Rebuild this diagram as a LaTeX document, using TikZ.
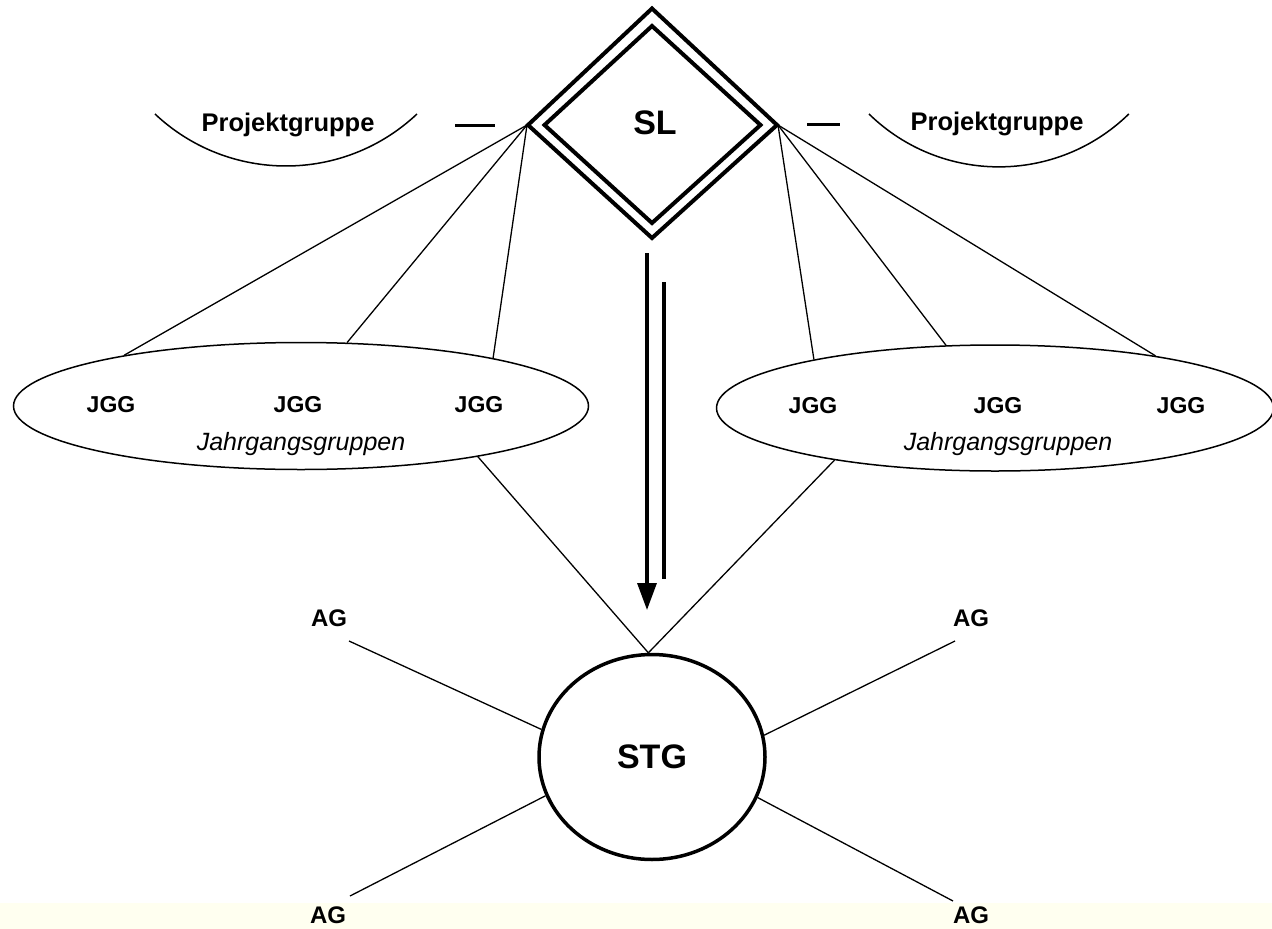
\documentclass[tikz,border=0pt]{standalone}
\usepackage{fontspec}
\setmainfont{Liberation Sans}
\usetikzlibrary{shapes.geometric,arrows.meta}
\definecolor{tint}{RGB}{255,255,240}
\begin{document}
\begin{tikzpicture}[x=1pt,y=-1pt,
  fan/.style={line width=1.3pt},
  ell/.style={ellipse, draw, line width=1.5pt, inner sep=0pt},
  jgg/.style={font=\bfseries\fontsize{23}{27}\selectfont, inner sep=0pt, anchor=base},
  jahr/.style={font=\itshape\fontsize{25}{30}\selectfont, inner sep=0pt, anchor=base},
  proj/.style={font=\bfseries\fontsize{25.5}{30}\selectfont, inner sep=0pt, anchor=base},
  ag/.style={font=\bfseries\fontsize{24}{28}\selectfont, inner sep=0pt, anchor=base},
  big/.style={font=\bfseries\fontsize{34}{40}\selectfont, inner sep=0pt},
  thickbar/.style={line width=3pt},
  arcline/.style={line width=1.5pt},
  arrowline/.style={line width=3.3pt}
]
\useasboundingbox (0,0) rectangle (1272,929);
\fill[white] (0,0) rectangle (1272,929);
\fill[tint] (0,903) rectangle (1272,929);

% SL double diamond
\draw[line width=4pt, line join=miter] (652,8.5) -- (777,125) -- (652,238) -- (528,125) -- cycle;
\draw[line width=4pt, line join=miter] (652,26) -- (760.5,125) -- (652,223) -- (544.5,125) -- cycle;
\node[big, anchor=base] (SL) at (655,134) {SL};
\coordinate (SLw) at (527,125);
\coordinate (SLe) at (778,125);

% Projektgruppe
\draw[arcline] (155,114) arc[start angle=226.7, end angle=313.3, radius=191pt];
\draw[arcline] (869,114) arc[start angle=225.7, end angle=314.3, radius=186pt];
\node[proj] (PL) at (288,131.5) {Projektgruppe};
\node[proj] (PR) at (997,130) {Projektgruppe};
\coordinate (DLa) at (455,125); \coordinate (DLb) at (495,125);
\coordinate (DRa) at (807,124); \coordinate (DRb) at (840,124);
\draw[thickbar] (DLa) -- (DLb);
\draw[thickbar] (DRa) -- (DRb);

% Jahrgangsgruppen ellipses
\node[ell, minimum width=575pt, minimum height=127pt] (JL) at (301,406) {};
\node[ell, minimum width=557pt, minimum height=126pt] (JR) at (995,408) {};
\node[jgg] (JL1) at (111,412) {JGG};
\node[jgg] (JL2) at (298,412) {JGG};
\node[jgg] (JL3) at (479,412) {JGG};
\node[jgg] (JR1) at (813,413) {JGG};
\node[jgg] (JR2) at (998,413) {JGG};
\node[jgg] (JR3) at (1181,413) {JGG};
\node[jahr] (JLt) at (301,450) {Jahrgangsgruppen};
\node[jahr] (JRt) at (1008,450) {Jahrgangsgruppen};

% fan lines
\draw[fan] (SLw) -- (JL.164.3);
\draw[fan] (SLw) -- (JL.54.5);
\draw[fan] (SLw) -- (JL.14.4);
\draw[fan] (SLe) -- (JR.165.8);
\draw[fan] (SLe) -- (JR.128.4);
\draw[fan] (SLe) -- (JR.18.8);

% STG
\node[ellipse, draw, line width=3.5pt, minimum width=226pt, minimum height=205pt, big] (STG) at (652,757) {STG};
\draw[fan] (JL.-16.7) -- (STG.92);
\draw[fan] (JR.198.4) -- (STG.92);

% double arrow
\coordinate (A1s) at (647,253); \coordinate (A1e) at (647,610);
\coordinate (A2s) at (664,282); \coordinate (A2e) at (664,579);
\draw[arrowline, -{Triangle[length=27pt,width=19pt]}] (A1s) -- (A1e);
\draw[arrowline] (A2s) -- (A2e);

% AG
\node[ag] (AGtl) at (329,626) {AG};
\node[ag] (AGtr) at (971,626) {AG};
\node[ag] (AGbl) at (328,923) {AG};
\node[ag] (AGbr) at (971,923) {AG};
\coordinate (Ltl) at (349,641);
\coordinate (Ltr) at (955,641);
\coordinate (Lbl) at (350,896);
\coordinate (Lbr) at (953,901);
\draw[fan] (Ltl) -- (STG.166.6);
\draw[fan] (Ltr) -- (STG.11);
\draw[fan] (Lbl) -- (STG.200.3);
\draw[fan] (Lbr) -- (STG.-21.8);
\end{tikzpicture}
\end{document}
